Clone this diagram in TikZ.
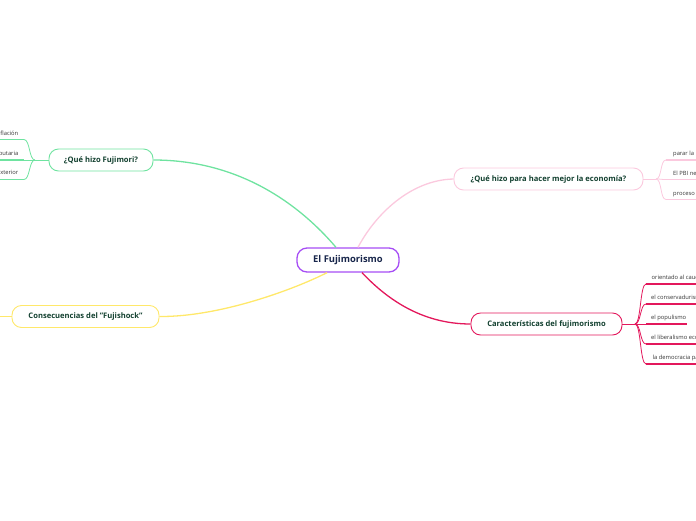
\documentclass[tikz,border=0pt]{standalone}
\usepackage{fontspec}
\setmainfont{Open Sans}
\usetikzlibrary{calc}
\definecolor{cpurple}{HTML}{A64DF5}
\definecolor{cgreen}{HTML}{6FE3A0}
\definecolor{cpink}{HTML}{FBC9DE}
\definecolor{ccrim}{HTML}{E3185C}
\definecolor{cyel}{HTML}{FFE86A}
\definecolor{tgreen}{HTML}{12402F}
\definecolor{tnavy}{HTML}{17254A}
\definecolor{tleaf}{HTML}{333333}
\tikzset{
  central/.style={draw=cpurple, line width=1.3pt, rounded corners=10pt, fill=white,
    minimum width=102pt, minimum height=24pt, inner sep=0pt,
    font=\fontsize{9.4}{11}\selectfont\bfseries, text=tnavy},
  topic/.style={line width=0.9pt, rounded corners=9.5pt, fill=white,
    minimum height=22pt, inner sep=0pt,
    font=\fontsize{7.6}{9}\selectfont\bfseries, text=tgreen},
  leaf/.style={inner sep=0pt, font=\fontsize{5.8}{7}\selectfont, text=tleaf},
  mainlink/.style={line width=1.3pt},
  sublink/.style={line width=0.8pt},
  uline/.style={line width=1.5pt}
}
\begin{document}
\begin{tikzpicture}[x=1pt,y=-1pt]
\useasboundingbox (0,0) rectangle (696,520);

% central and topics
\node[central] (c) at (348,260) {El Fujimorismo};
\node[topic, draw=cgreen, minimum width=104pt] (fuj) at (101,160) {¿Qué hizo Fujimori?};
\node[topic, draw=cpink, minimum width=189pt] (eco) at (548.5,179) {¿Qué hizo para hacer mejor la economía?};
\node[topic, draw=ccrim, minimum width=151pt] (car) at (546.5,324) {Características del fujimorismo};
\node[topic, draw=cyel, minimum width=147pt] (con) at (85.5,316.5) {Consecuencias del "Fujishock"};

% main connectors
\draw[mainlink, cgreen] ($(c.north)+(-12,0)$) .. controls (300,205) and (240,160) .. (fuj.east);
\draw[mainlink, cpink] ($(c.north)+(10,0)$) .. controls (375,215) and (410,180) .. (eco.west);
\draw[mainlink, cyel] ($(c.south)+(-21,0)$) .. controls (295,289) and (220,317) .. (con.east);
\draw[mainlink, ccrim] ($(c.south)+(14,0)$) .. controls (385,297) and (420,324) .. (car.west);

% left (Fujimori) leaves
\coordinate (gj) at (35,160);
\draw[sublink, cgreen] (fuj.west) -- (gj);
\foreach \i/\y in {1/139.5,2/160,3/179.5}{
  \coordinate (ge\i) at (24,\y);
  \coordinate (gs\i) at (-5,\y);
  \draw[sublink, cgreen] (gj) .. controls (29,160) and (30,\y) .. (ge\i);
  \draw[uline, cgreen] (gs\i) -- (ge\i);
}
\node[leaf, anchor=base east] (g1) at (18.5,135) {inflación};
\node[leaf, anchor=base east] (g2) at (18.5,155) {tributaria};
\node[leaf, anchor=base east] (g3) at (18.5,174.5) {exterior};

% yellow stub
\coordinate (ye) at (-5,316.5);
\draw[sublink, cyel] (con.west) -- (ye);

% pink leaves
\coordinate (pj) at (656,179);
\draw[sublink, cpink] (eco.east) -- (pj);
\foreach \i/\y in {1/160,2/179.5,3/199.5}{
  \coordinate (ps\i) at (666,\y);
  \coordinate (pe\i) at (705,\y);
  \draw[sublink, cpink] (pj) .. controls (662,179) and (660,\y) .. (ps\i);
  \draw[uline, cpink] (ps\i) -- (pe\i);
}
\node[leaf, anchor=base west] (p1) at (673,155) {parar la hiperinflación};
\node[leaf, anchor=base west] (p2) at (673,175) {El PBI negativo};
\node[leaf, anchor=base west] (p3) at (673,195) {proceso de privatización};

% crimson leaves
\coordinate (rj) at (635,324);
\draw[sublink, ccrim] (car.east) -- (rj);
\foreach \i/\y/\e in {1/284/705,2/304/705,3/324/687,4/344/705,5/364/705}{
  \coordinate (rs\i) at (646,\y);
  \coordinate (re\i) at (\e,\y);
  \draw[sublink, ccrim] (rj) .. controls (641,324) and (640,\y) .. (rs\i);
  \draw[uline, ccrim] (rs\i) -- (re\i);
}
\node[leaf, anchor=base west] (r1) at (651.5,279.5) {orientado al caudillismo};
\node[leaf, anchor=base west] (r2) at (651,299.5) {el conservadurismo};
\node[leaf, anchor=base west] (r3) at (651,319.5) {el populismo};
\node[leaf, anchor=base west] (r4) at (651,339.5) {el liberalismo económico};
\node[leaf, anchor=base west] (r5) at (652.5,359.5) {la democracia participativa};
\end{tikzpicture}
\end{document}
